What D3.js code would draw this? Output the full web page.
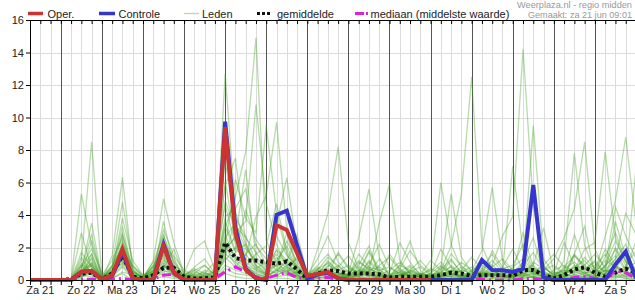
<!DOCTYPE html>
<html><head><meta charset="utf-8">
<script src="https://cdn.jsdelivr.net/npm/d3@7"></script>
<style>
html,body{margin:0;padding:0;background:#fff;}
svg{display:block;font-family:"Liberation Sans",Arial,sans-serif;}
</style></head>
<body><svg id="c" width="635" height="300"></svg>
<script>
// ---- DATA (6-hourly precipitation, mm) ----
const startTime = "2025-06-21T06:00:00Z";
const endTime = "2025-07-06T00:00:00Z";
const dayLabels = ["Za 21","Zo 22","Ma 23","Di 24","Wo 25","Do 26","Vr 27","Za 28","Zo 29","Ma 30","Di 1","Wo 2","Do 3","Vr 4","Za 5"];
const yTicks = [0,2,4,6,8,10,12,14,16];

const oper = [0,0,0, 0,0,0.51,0.57, 0.04,0.3,1.9,0.1, 0,0,2.09,0.45, 0,0,0,0, 9.4,2.85,0.62,0.1, 0.05,3.38,3.08,1.65, 0.25,0.37,0.49,0.1, 0,0,0,0, 0,0,0,0, 0];
const controle = [0,0,0, 0,0,0.5,0.55, 0.03,0.25,1.7,0.1, 0,0,2.2,0.45, 0,0,0,0, 9.74,3.2,0.68,0.1, 0,4.0,4.27,2.15, 0.12,0.35,0.45,0.1, 0,0,0,0, 0,0,0,0, 0,0,0,0, 0,1.23,0.62,0.6, 0.5,0.7,5.85,0.15, 0,0,0,0, 0,0,0.96,1.75, 0.1];
const gemiddelde = [0,0,0, 0,0.05,0.4,0.45, 0.05,0.4,1.5,0.2, 0.1,0.3,0.75,0.75, 0.2,0.1,0.1,0.15, 2.3,1.35,1.2,1.2, 1.1,1.0,1.15,0.65, 0.1,0.4,0.6,0.55, 0.4,0.4,0.4,0.35, 0.15,0.2,0.2,0.2, 0.2,0.3,0.45,0.4, 0.25,0.3,0.3,0.3, 0.25,0.6,0.62,0.3, 0.1,0.3,0.65,0.78, 0.45,0.2,0.45,0.7, 0.45];
const mediaan = [0,0,0, 0,0.02,0.05,0.05, 0,0.05,0.1,0, 0,0.05,0.3,0.35, 0.05,0,0,0.1, 0.5,0.8,0.5,0.2, 0.1,0.3,0.45,0.15, 0.05,0.1,0.15,0.05, 0,0,0,0, 0,0,0,0, 0,0.05,0,0, 0,0.05,0,0, 0,0.1,0.1,0, 0,0,0.15,0.2, 0.1,0.05,0.55,0.45, 0.1];

const leden = [
[0,0,0, 0,0,1.2,8.5, 0.2,0.8,2.1,0.3, 0,0.4,1.6,0.9, 0.1,0,0.3,0.6, 12.7,4.2,2.1,0.8, 0.3,1.9,1.2,0.4, 0,0.6,1.4,0.9, 0.2,0.5,1.8,0.7, 0,0.3,0.8,0.2, 0.1,0.6,1.3,0.4, 0.3,0.9,0.5,0.2, 0,1.1,2.6,0.4, 0.2,0.8,1.5,0.9, 0.3,1.4,2.9,1.2, 0.5],
[0,0,0, 0,0,0.3,0.9, 0,1.5,6.3,0.6, 0.1,0.9,2.2,1.4, 0,0.2,0,0.1, 3.2,5.1,7.9,14.9, 2.4,1.1,0.5,0.9, 0.1,0.2,0.7,0.3, 0.4,1.2,0.6,0.1, 0.3,0.9,2.4,0.6, 0,0.2,0.5,1.1, 0.6,0.3,1.8,0.8, 0.2,0.4,0.9,0.3, 0,0.2,1.6,3.3, 0.4,0.8,1.9,0.6, 0.2],
[0,0,0, 0,0,5.3,2.1, 0.4,0.3,1.1,0.2, 0,0.2,0.9,0.4, 0.3,0.6,0.2,0, 1.8,2.7,1.4,3.9, 5.2,9.7,3.1,0.8, 0,0.3,1.2,0.5, 0,0.4,0.2,0.9, 1.4,0.6,0.2,0, 0.3,1.9,0.8,0.2, 0.1,0.5,0.3,0.7, 0.9,2.2,0.6,0.1, 0,0.3,0.8,0.4, 0.2,0.6,1.3,4.1, 2.8],
[0,0,0, 0,0,0.6,3.5, 0.1,0.5,2.8,0.7, 0,1.2,5.0,2.3, 0.4,0.1,0,0.2, 2.6,3.5,1.9,1.2, 0.6,0.9,2.4,1.1, 0.2,0.5,0.3,1.7, 0.8,0.3,1.1,0.4, 0.1,0.2,0.6,0.3, 1.2,0.6,2.1,5.3, 12.5,2.1,0.6,0.3, 0.1,0.7,0.4,0.9, 1.6,0.8,0.3,0.5, 0,0.9,2.4,1.1, 0.6],
[0,0,0, 0,0,0.2,0.6, 0,0.6,3.8,1.2, 0.3,0.5,1.8,0.4, 0,0,0.4,1.1, 4.6,2.2,0.9,0.4, 0.2,0.6,1.1,2.8, 0.4,0.1,0.9,0.6, 0.2,1.6,0.8,0.3, 0.6,1.1,0.4,0.2, 0,0.3,0.6,0.2, 0.5,1.3,0.9,2.7, 3.9,14.2,4.6,0.8, 0.3,0.2,1.5,0.7, 1.1,0.4,0.3,0.9, 1.8],
[0,0,0, 0,0,0.8,1.6, 0.1,0.2,1.4,0.3, 0,0.7,3.1,1.5, 0.6,0.3,0.1,0, 7.4,3.3,2.6,1.7, 0.8,1.6,0.9,0.3, 0,1.9,4.1,8.2, 2.3,0.7,0.4,1.3, 0.2,0.1,0.5,0.8, 0.3,0.2,0.9,0.4, 0,0.6,1.2,0.5, 0.7,0.3,0.2,0.6, 1.3,2.6,4.4,8.5, 1.9,0.6,0.4,0.2, 0.1],
[0,0,0, 0,0,0.4,1.0, 0,0.9,4.8,0.9, 0.2,0.3,1.2,0.8, 0.1,0.4,0.9,0.3, 2.1,6.2,3.8,2.9, 9.5,4.1,1.6,0.5, 0.3,0.8,0.4,0.2, 0.1,0.3,0.9,2.2, 0.8,0.3,0.1,0.4, 0.2,0.8,0.5,0.1, 0.4,0.2,0.6,0.3, 0.2,0.9,1.7,0.6, 0.1,0.4,0.8,1.2, 0.5,2.7,4.9,8.8, 3.4],
[0,0,0, 0,0,1.7,0.8, 0.2,0.4,1.9,0.1, 0,0.5,2.4,1.1, 0.2,0,0.2,0.5, 5.8,7.5,2.3,0.9, 0.4,1.2,2.1,0.6, 0.1,0.4,0.2,0.8, 1.5,0.6,0.3,0.1, 0.2,0.7,1.8,0.9, 0.4,0.1,0.3,0.6, 1.4,0.7,0.4,0.2, 0.8,1.3,0.5,0.4, 0.2,0.1,0.6,1.9, 2.3,7.9,2.6,1.1, 0.7],
[0,0,0, 0,0,0.3,2.4, 0.1,0.7,3.3,0.5, 0.1,0.8,1.5,0.6, 0.2,0.5,0.3,0.1, 3.9,4.4,5.6,2.1, 1.3,0.6,0.4,1.5, 0.2,0.3,1.1,0.6, 0.9,0.4,1.7,0.5, 0.2,0.3,0.6,1.2, 0.5,1.1,0.4,0.2, 0.6,1.8,5.7,1.2, 0.3,0.5,0.7,0.4, 0.2,1.2,7.8,2.1, 0.6,0.4,1.3,2.2, 0.9],
[0,0,0, 0,0,0.5,1.3, 0,0.3,2.3,0.8, 0.2,1.1,2.8,0.6, 0,0.1,0.6,0.4, 8.3,2.9,3.6,10.8, 4.7,2.2,0.8,0.3, 0.1,0.7,0.5,0.2, 0.4,2.6,5.6,1.4, 0.3,0.5,0.2,0.1, 0,0.4,1.6,0.9, 0.2,0.4,0.3,0.8, 1.9,0.6,0.9,3.2, 0.5,0.3,0.2,0.4, 0.8,1.6,0.7,0.5, 0.3],
[0,0,0, 0,0,2.9,0.7, 0.1,0.6,1.7,0.4, 0,0.2,0.7,1.9, 0.3,0.2,0,0.1, 1.4,3.8,2.7,1.1, 0.6,3.4,6.3,1.9, 0.5,0.2,0.6,0.4, 0.2,0.8,0.5,3.5, 5.9,1.2,0.4,0.2, 0.3,0.5,0.8,0.3, 0.1,0.3,0.9,0.4, 0.6,0.2,1.1,0.7, 0.4,2.3,0.9,0.6, 1.2,0.5,3.6,1.4, 0.4],
[0,0,0, 0,0,0.9,1.9, 0.3,1.2,2.6,0.2, 0.1,0.4,3.6,0.9, 0.5,0.2,0.1,0.3, 6.1,2.4,1.3,0.7, 1.1,2.7,1.5,0.9, 0.3,1.3,2.7,1.1, 0.5,0.2,0.6,0.8, 0.4,2.3,1.1,0.3, 0.6,6.0,2.2,0.7, 0.3,0.5,0.4,0.2, 0.4,1.1,0.3,0.6, 0.9,0.4,1.6,0.8, 0.3,0.9,1.5,0.6, 1.1],
[0,0,0, 0,0,0.4,1.1, 0.2,0.5,1.8,0.9, 0.3,0.6,1.1,0.5, 0.2,0.8,1.3,0.4, 3.6,1.8,4.3,2.5, 1.6,0.8,2.9,0.5, 0.2,0.6,0.3,0.4, 0.1,0.3,1.2,0.6, 0.8,0.4,0.3,0.2, 0.2,0.7,5.3,1.4, 0.5,1.1,0.6,0.3, 0.2,0.8,9.5,1.3, 0.4,0.6,0.3,0.2, 0.5,1.2,0.8,0.4, 6.9],
[0,0,0, 0,0,0.2,0.5, 0,0.4,1.3,0.3, 0.1,0.3,0.8,0.6, 0.4,1.9,2.4,0.6, 2.3,1.5,0.9,0.6, 0.3,0.5,1.3,0.7, 0.2,0.4,0.8,1.6, 0.7,0.5,0.3,0.2, 1.6,0.7,0.2,0.4, 0.3,0.2,0.6,0.5, 0.8,0.4,0.2,0.5, 7.0,1.8,0.4,0.2, 0.6,0.9,0.5,1.4, 0.7,0.3,0.6,1.8, 0.5],
[0,0,0, 0,0,0.7,2.8, 0.1,0.8,2.9,0.4, 0.2,0.9,1.9,0.3, 0.1,0.3,0.5,0.2, 4.9,3.1,1.6,2.2, 0.9,1.8,1.0,0.4, 0.3,0.9,1.6,0.7, 0.2,0.6,0.4,0.3, 0.2,0.5,0.9,0.4, 0.1,0.3,0.2,0.6, 0.4,0.7,1.6,0.6, 0.3,0.4,0.6,0.5, 0.2,0.7,1.1,0.5, 0.4,1.9,0.9,0.3, 0.2],
[0,0,0, 0,0,1.4,0.4, 0.2,0.9,2.0,0.6, 0.1,0.6,2.7,1.2, 0.2,0.1,0.2,0.3, 2.8,1.2,0.8,1.6, 2.1,4.7,1.8,0.6, 0.4,0.3,0.5,0.3, 0.3,1.1,0.7,0.4, 0.1,0.3,0.5,0.3, 0.7,0.4,1.2,0.5, 0.2,0.6,0.3,0.4, 0.5,2.9,0.8,0.3, 0.4,0.5,2.8,0.9, 1.6,0.8,4.5,2.7, 1.3],
[0,0,0, 0,0,0.3,1.4, 0,0.2,1.6,0.5, 0.2,0.8,1.4,0.7, 0.3,0.7,0.4,0.2, 1.9,2.6,6.8,1.4, 0.7,0.4,0.9,1.3, 0.2,0.6,0.4,0.3, 0.6,0.3,0.8,0.6, 0.3,0.6,0.4,0.2, 0.4,0.9,0.3,0.2, 0.3,0.2,0.8,1.3, 0.6,0.4,0.3,0.8, 0.3,0.6,0.4,0.7, 0.9,0.5,0.8,0.6, 2.4],
[0,0,0, 0,0,0.6,1.0, 0.1,0.3,2.4,0.3, 0,0.3,1.7,0.8, 0.1,0.4,0.2,0.5, 3.3,1.7,2.2,0.9, 0.5,1.4,0.7,0.3, 0.1,0.2,0.5,0.9, 0.4,0.9,2.1,0.3, 0.2,0.9,0.6,0.4, 0.2,0.5,0.3,0.8, 0.5,0.3,0.4,0.2, 0.3,0.6,0.5,0.9, 0.2,0.3,0.9,0.4, 0.6,0.3,2.0,0.9, 0.5],
[0,0,0, 0,0,0.5,0.9, 0.1,0.4,1.4,0.2, 0,0.2,0.6,0.3, 0,0.1,0.2,0.1, 1.6,1.1,0.6,0.4, 0.2,0.7,0.5,0.2, 0.1,0.3,0.4,0.2, 0.2,0.4,0.3,0.1, 0.1,0.2,0.3,0.2, 0.1,0.3,0.2,0.1, 0.2,0.3,0.2,0.1, 0.3,0.2,0.4,0.2, 0.1,0.2,0.3,0.2, 0.1,0.3,0.2,0.4, 0.2],
[0,0,0, 0,0,0.2,0.4, 0,0.2,0.8,0.1, 0.1,0.4,0.9,0.2, 0.1,0,0.1,0.2, 0.9,0.6,0.4,0.2, 0.1,0.3,0.6,0.2, 0,0.2,0.1,0.3, 0.1,0.2,0.1,0.2, 0.3,0.1,0.2,0.1, 0.2,0.1,0.1,0.2, 0.1,0.2,0.1,0.3, 0.2,0.1,0.2,0.1, 0.3,0.2,0.1,0.2, 0.1,0.2,0.3,0.1, 0.1],
[0,0,0, 0,0,0.9,0.3, 0,0.1,0.5,0.3, 0,0.6,1.3,0.4, 0.2,0.3,0.1,0, 2.1,0.9,0.7,0.5, 0.3,0.9,0.4,0.1, 0,0.5,0.2,0.1, 0.3,0.2,0.5,0.3, 0.1,0.4,0.2,0.1, 0.3,0.2,0.4,0.1, 0.2,0.1,0.3,0.2, 0.1,0.4,0.2,0.3, 0.2,0.4,0.2,0.1, 0.3,0.2,0.1,0.3, 0.4],
[0,0,0, 0,0,0.1,0.7, 0.1,0.5,1.2,0.4, 0.1,0.2,0.5,0.6, 0.1,0.2,0.4,0.3, 1.2,2.0,1.1,0.6, 0.4,0.2,0.8,0.4, 0.2,0.1,0.3,0.5, 0.2,0.1,0.4,0.2, 0.2,0.3,0.1,0.3, 0.2,0.4,0.2,0.3, 0.1,0.2,0.4,0.1, 0.2,0.3,0.1,0.2, 0.1,0.2,0.5,0.3, 0.2,0.4,0.6,0.2, 0.3],
[0,0,0, 0,0,0.3,0.2, 0,0.3,0.9,0.2, 0,0.1,0.4,0.2, 0,0.1,0,0.1, 0.7,0.4,0.3,0.2, 0.1,0.2,0.3,0.1, 0,0.1,0.2,0.1, 0,0.1,0.2,0.1, 0,0.1,0.1,0, 0.1,0.2,0.1,0, 0.1,0,0.1,0.1, 0,0.1,0.2,0.1, 0,0.1,0.2,0.1, 0,0.1,0.2,0.1, 0],
[0,0,0, 0,0,0,0.1, 0,0.1,0.4,0, 0,0.1,0.2,0.1, 0,0,0,0, 0.4,0.2,0.1,0.1, 0,0.1,0.1,0, 0,0,0.1,0, 0,0.1,0,0, 0,0,0.1,0, 0,0.1,0,0, 0,0.1,0,0, 0.1,0,0,0.1, 0,0,0.1,0, 0,0.1,0,0, 0],
[0,0,0, 0,0,1.0,0.5, 0.2,0.6,1.0,0.5, 0.2,0.5,1.0,0.3, 0.1,0.6,0.9,0.3, 2.4,1.4,0.9,0.3, 0.2,0.6,0.3,0.5, 0.3,0.7,1.0,0.4, 0.3,0.6,0.4,0.2, 0.1,0.5,0.3,0.2, 0.4,0.3,0.6,0.2, 0.3,0.5,0.2,0.4, 0.3,0.2,0.5,0.3, 0.2,0.5,0.7,0.4, 0.3,0.6,0.4,0.7, 0.5],
[0,0,0, 0,0,0.4,1.6, 0,0.3,1.6,0.2, 0.1,0.3,0.9,0.5, 0.2,0.1,0.3,0.2, 1.4,0.8,1.6,0.7, 0.4,1.0,0.6,0.2, 0.1,0.2,0.6,0.2, 0.2,0.3,0.7,0.4, 0.2,0.3,0.5,0.3, 0.2,0.3,0.4,0.2, 0.2,0.4,0.3,0.2, 0.4,0.3,0.6,0.2, 0.2,0.4,0.6,0.3, 0.2,0.4,0.9,0.5, 0.3]
];

// ---- CHART ----
const svg = d3.select("#c");
const pL = 30, pR = 636, pT = 20, pB = 280;
const t0 = new Date(startTime), t1 = new Date(endTime);
const x = d3.scaleUtc().domain([t0, t1]).range([pL, pR]);
const y = d3.scaleLinear().domain([0, 16]).range([pB, pT]);
const timeAt = i => d3.utcHour.offset(t0, 6 * i);
const sixHours = d3.utcHour.every(6).range(t0, d3.utcHour.offset(t1, 1));

// grid
const grid = svg.append("g");
grid.selectAll("line.h").data(yTicks.filter(v => v > 0)).join("line")
  .attr("x1", pL).attr("x2", 635).attr("y1", d => Math.round(y(d)) + 0.5).attr("y2", d => Math.round(y(d)) + 0.5)
  .attr("stroke", "#dcdcdc");
const vLines = sixHours.filter(d => d > t0);
grid.selectAll("line.v").data(vLines.filter(d => d.getUTCHours() !== 0)).join("line")
  .attr("x1", d => Math.round(x(d)) + 0.5).attr("x2", d => Math.round(x(d)) + 0.5)
  .attr("y1", pT).attr("y2", pB).attr("stroke", "#dcdcdc");
grid.selectAll("line.d").data(vLines.filter(d => d.getUTCHours() === 0)).join("line")
  .attr("x1", d => Math.round(x(d)) + 0.5).attr("x2", d => Math.round(x(d)) + 0.5)
  .attr("y1", pT).attr("y2", pB).attr("stroke", "#555");

svg.append("defs").append("clipPath").attr("id", "clip")
  .append("rect").attr("x", pL).attr("y", 0).attr("width", 610).attr("height", pB + 2);
const plot = svg.append("g").attr("clip-path", "url(#clip)");
const line = d3.line().x((d, i) => x(timeAt(i))).y(d => y(d));

plot.selectAll("path.lid").data(leden).join("path")
  .attr("d", line).attr("fill", "none")
  .attr("stroke", "#45a025").attr("stroke-opacity", 0.38).attr("stroke-width", 1.3);

plot.append("path").datum(gemiddelde).attr("d", line).attr("fill", "none")
  .attr("stroke", "#111").attr("stroke-width", 4).attr("stroke-dasharray", "3,3");
plot.append("path").datum(mediaan).attr("d", line).attr("fill", "none")
  .attr("stroke", "#dd22dd").attr("stroke-width", 3).attr("stroke-dasharray", "9,4,2,4");
plot.append("path").datum(controle).attr("d", line).attr("fill", "none")
  .attr("stroke", "#3636cc").attr("stroke-width", 4);
plot.append("path").datum(oper).attr("d", line).attr("fill", "none")
  .attr("stroke", "#cc3333").attr("stroke-width", 4);

// axes
const font = g => g.selectAll("text").attr("font-size", 11).attr("fill", "#222").attr("font-family", "Liberation Sans, Arial, sans-serif");
svg.append("g").attr("transform", `translate(${pL},0)`)
  .call(d3.axisLeft(y).tickValues(yTicks).tickSize(4).tickSizeOuter(0).tickPadding(2).tickFormat(d3.format("d")))
  .call(font).call(g => g.select(".domain").attr("stroke", "#000"));
svg.append("g").attr("transform", `translate(0,${pB})`)
  .call(d3.axisBottom(x).tickValues(sixHours).tickSize(5).tickSizeOuter(0).tickFormat(""))
  .call(g => g.select(".domain").attr("stroke", "#000"));
svg.append("g").attr("transform", `translate(0,${pT})`)
  .call(d3.axisBottom(x).tickValues(sixHours).tickSize(4).tickSizeOuter(0).tickFormat(""))
  .call(g => g.select(".domain").attr("stroke", "#000"));

// day labels at noon
svg.append("g").selectAll("text").data(dayLabels).join("text")
  .attr("x", (d, i) => x(d3.utcHour.offset(t0, 6 + 24 * i)))
  .attr("y", 294).attr("text-anchor", "middle")
  .attr("font-size", 11).attr("fill", "#222").text(d => d);

// legend
const lg = svg.append("g").attr("font-size", 11).attr("fill", "#222");
const items = [
  {x1: 28, x2: 43, tx: 47.5, label: "Oper.", stroke: "#cc3333", w: 3.5, dash: null},
  {x1: 99, x2: 115, tx: 118.5, label: "Controle", stroke: "#3636cc", w: 3.5, dash: null},
  {x1: 184, x2: 199, tx: 202, label: "Leden", stroke: "#b7dba8", w: 1.3, dash: null},
  {x1: 257, x2: 272, tx: 277, label: "gemiddelde", stroke: "#111", w: 3, dash: "3,2"},
  {x1: 355, x2: 369, tx: 370.5, label: "mediaan (middelste waarde)", stroke: "#dd22dd", w: 3, dash: "9,2,2,10"}
];
items.forEach(it => {
  lg.append("line").attr("x1", it.x1).attr("x2", it.x2).attr("y1", 13.5).attr("y2", 13.5)
    .attr("stroke", it.stroke).attr("stroke-width", it.w).attr("stroke-dasharray", it.dash);
  lg.append("text").attr("x", it.tx).attr("y", 17.5).text(it.label);
});
svg.append("text").attr("x", 632).attr("y", 8.2).attr("text-anchor", "end")
  .attr("font-size", 8.8).attr("fill", "#999").attr("textLength", 115).attr("lengthAdjust", "spacingAndGlyphs")
  .text("Weerplaza.nl - regio midden");
svg.append("text").attr("x", 632).attr("y", 17.8).attr("text-anchor", "end")
  .attr("font-size", 8.8).attr("fill", "#999").attr("textLength", 104).attr("lengthAdjust", "spacingAndGlyphs")
  .text("Gemaakt: za 21 jun 09:01");
</script></body></html>
